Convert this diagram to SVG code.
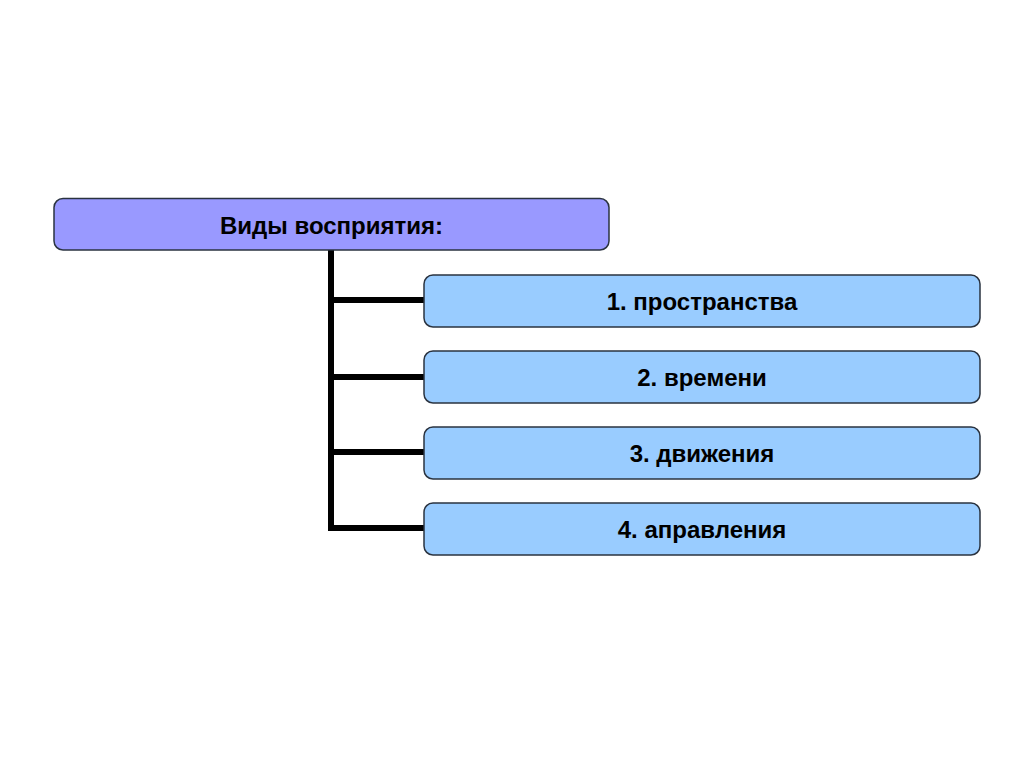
<svg xmlns="http://www.w3.org/2000/svg" width="1024" height="767" viewBox="0 0 1024 767">
<style>
.box{stroke:#2a3340;stroke-width:1.5}
.top{fill:#9999ff}
.child{fill:#99ccff}
.lbl{font-family:"Liberation Sans",Arial,sans-serif;font-weight:bold;font-size:24px;fill:#000;text-anchor:middle}
.conn{stroke:#000;stroke-width:6;fill:none;stroke-linejoin:miter}
</style>
<rect width="1024" height="767" fill="#fff"/>
<g id="connectors">
<path class="conn" d="M331,250 V528 H424"/>
<path class="conn" d="M331,300 H424"/>
<path class="conn" d="M331,377 H424"/>
<path class="conn" d="M331,452 H424"/>
</g>
<g id="root">
<rect class="box top" x="54" y="198.5" width="555" height="51.5" rx="9"/>
<text class="lbl" x="331.5" y="234">Виды восприятия:</text>
</g>
<g id="n1">
<rect class="box child" x="424" y="275" width="556" height="52" rx="9"/>
<text class="lbl" x="702" y="309.5">1. пространства</text>
</g>
<g id="n2">
<rect class="box child" x="424" y="351" width="556" height="52" rx="9"/>
<text class="lbl" x="702" y="385.5">2. времени</text>
</g>
<g id="n3">
<rect class="box child" x="424" y="427" width="556" height="52" rx="9"/>
<text class="lbl" x="702" y="461.5">3. движения</text>
</g>
<g id="n4">
<rect class="box child" x="424" y="503" width="556" height="52" rx="9"/>
<text class="lbl" x="702" y="537.5">4. аправления</text>
</g>
</svg>
